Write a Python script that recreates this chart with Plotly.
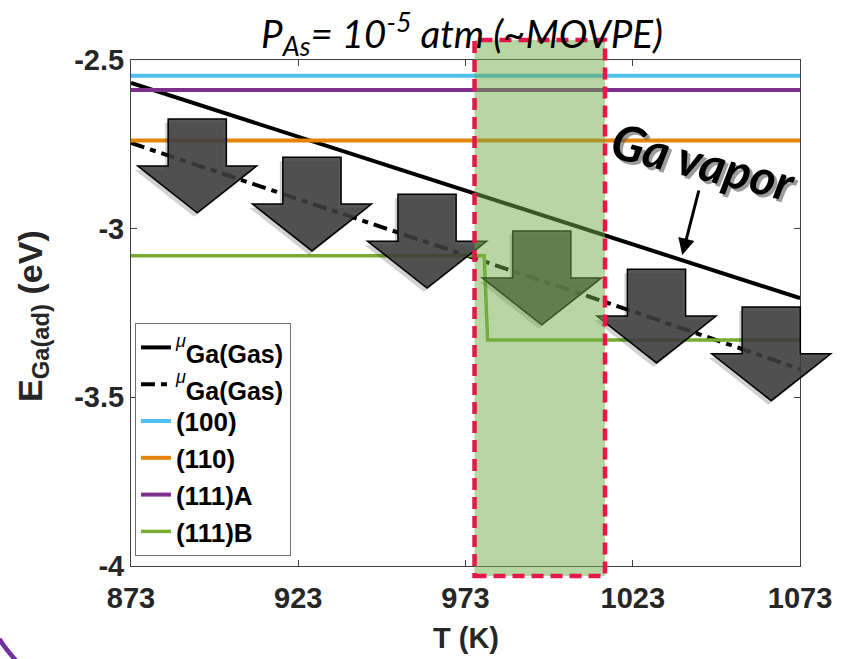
import plotly.graph_objects as go

# ---- data -------------------------------------------------------------
T_grid = [873, 923, 973, 1023, 1073]
mu_gas_solid = [-2.568, -2.727, -2.887, -3.046, -3.206]
mu_gas_dashdot = [-2.746, -2.912, -3.078, -3.245, -3.416]

E_100 = -2.547
E_110 = -2.739
E_111A = -2.589
T_111B = [873, 978.6, 979.6, 1073]
E_111B = [-3.08, -3.08, -3.33, -3.33]

x_ticks = [873, 923, 973, 1023, 1073]
x_tick_text = ["873", "923", "973", "1023", "1073"]
y_ticks = [-4, -3.5, -3, -2.5]
y_tick_text = ["-4", "-3.5", "-3", "-2.5"]

# block arrows: centre temperature and top-of-shaft energy
arrow_T = [892.8, 927.1, 961.5, 995.8, 1030.1, 1064.4]
arrow_E_top = [-2.675, -2.788, -2.898, -3.007, -3.120, -3.232]

# highlighted growth window
window_T = [975.7, 1014.7]

T_MIN, T_MAX = 873, 1073
E_MIN, E_MAX = -4.0, -2.5

# ---- layout geometry (pixels) -----------------------------------------
W, H = 844, 659
ML, MR, MT, MB = 131, 37, 60, 93
PW, PH = W - ML - MR, H - MT - MB

BLUE = "#4DBEEE"
ORANGE = "#E3830A"
PURPLE = "#7E2F8E"
GREEN = "#77AC30"

MU_LABEL = ("<sup><i><span style='font-size:18px;font-weight:normal'>μ</span></i></sup>"
            "<sub><span style='font-size:25px'>Ga(Gas)</span></sub>")


def fx(T):
    return (T - T_MIN) / (T_MAX - T_MIN)


def fy(E):
    return (E - E_MIN) / (E_MAX - E_MIN)


def px_to_fx(p):
    return (p - ML) / PW


def px_to_fy(p):
    return (H - MB - p) / PH


fig = go.Figure()

fig.add_trace(go.Scatter(x=T_grid, y=mu_gas_solid, mode="lines",
                         line=dict(color="black", width=4), name=MU_LABEL))
fig.add_trace(go.Scatter(x=T_grid, y=mu_gas_dashdot, mode="lines",
                         line=dict(color="black", width=4, dash="14px,6px,6px,6px"),
                         name=MU_LABEL))
fig.add_trace(go.Scatter(x=[T_MIN, T_MAX], y=[E_100, E_100], mode="lines",
                         line=dict(color=BLUE, width=4), name="(100)"))
fig.add_trace(go.Scatter(x=[T_MIN, T_MAX], y=[E_110, E_110], mode="lines",
                         line=dict(color=ORANGE, width=4), name="(110)"))
fig.add_trace(go.Scatter(x=[T_MIN, T_MAX], y=[E_111A, E_111A], mode="lines",
                         line=dict(color=PURPLE, width=4), name="(111)A"))
fig.add_trace(go.Scatter(x=T_111B, y=E_111B, mode="lines",
                         line=dict(color=GREEN, width=3.5), name="(111)B"))

# ---- block arrows -----------------------------------------------------
SHAFT_HALF_K = 8.7
WING_HALF_K = 17.8
SHAFT_EV = 0.139
HEAD_EV = 0.139


def arrow_path(tc, etop, dx=0.0, dy=0.0):
    pts = [
        (tc - SHAFT_HALF_K, etop),
        (tc + SHAFT_HALF_K, etop),
        (tc + SHAFT_HALF_K, etop - SHAFT_EV),
        (tc + WING_HALF_K, etop - SHAFT_EV),
        (tc, etop - SHAFT_EV - HEAD_EV),
        (tc - WING_HALF_K, etop - SHAFT_EV),
        (tc - SHAFT_HALF_K, etop - SHAFT_EV),
    ]
    s = ""
    for i, (t, e) in enumerate(pts):
        s += ("M" if i == 0 else "L") + f"{fx(t) + dx:.5f},{fy(e) + dy:.5f} "
    return s + "Z"


shapes = []
for tc, et in zip(arrow_T, arrow_E_top):
    shapes.append(dict(type="path", xref="paper", yref="paper",
                       path=arrow_path(tc, et, -3 / PW, -4 / PH),
                       fillcolor="rgba(0,0,0,0.18)", line=dict(width=0),
                       layer="above"))
    shapes.append(dict(type="path", xref="paper", yref="paper",
                       path=arrow_path(tc, et),
                       fillcolor="rgba(62,62,62,0.88)",
                       line=dict(color="black", width=1.5),
                       layer="above"))

# growth window: translucent green band with dashed crimson border
shapes.append(dict(type="rect", xref="paper", yref="paper",
                   x0=fx(window_T[0]), x1=fx(window_T[1]),
                   y0=px_to_fy(576), y1=px_to_fy(40),
                   fillcolor="rgba(112,173,71,0.5)",
                   line=dict(color="#E5174B", width=4.5, dash="12px,7px"),
                   layer="above"))

# decorative purple arc in the lower-left corner
shapes.append(dict(type="path", xref="paper", yref="paper",
                   path=(f"M{px_to_fx(-2):.5f},{px_to_fy(639):.5f} "
                         f"Q{px_to_fx(6):.5f},{px_to_fy(652):.5f} "
                         f"{px_to_fx(22):.5f},{px_to_fy(668):.5f}"),
                   line=dict(color="#7030A0", width=4.5), layer="above"))

annotations = [
    # title
    dict(xref="paper", yref="paper", x=px_to_fx(465), y=px_to_fy(33),
         xanchor="center", yanchor="middle", showarrow=False,
         text="P<sub>As</sub>= 10<sup>-5</sup> atm (~MOVPE)",
         font=dict(family="Lato", size=38.5, color="black", style="italic")),
    # axis titles
    dict(xref="paper", yref="paper", x=px_to_fx(469), y=px_to_fy(638),
         xanchor="center", yanchor="middle", showarrow=False,
         text="T (K)",
         font=dict(family="Liberation Sans", size=29, color="#262626", weight="bold")),
    dict(xref="paper", yref="paper", x=px_to_fx(31), y=px_to_fy(316),
         xanchor="center", yanchor="middle", showarrow=False, textangle=-90,
         text="E<sub>Ga(ad)</sub> (eV)",
         font=dict(family="Liberation Sans", size=34, color="#262626", weight="bold")),
    # "Ga vapor" label with drop shadow and pointer
    dict(xref="paper", yref="paper", x=px_to_fx(710), y=px_to_fy(161),
         xanchor="center", yanchor="middle", showarrow=False, textangle=14,
         xshift=3, yshift=-3, text="Ga vapor",
         font=dict(family="Lato", size=49, color="rgba(90,90,90,0.6)",
                   weight="bold", style="italic")),
    dict(xref="paper", yref="paper", x=px_to_fx(710), y=px_to_fy(161),
         xanchor="center", yanchor="middle", showarrow=False, textangle=14,
         text="Ga vapor",
         font=dict(family="Lato", size=49, color="black",
                   weight="bold", style="italic")),
    dict(xref="paper", yref="paper", x=px_to_fx(688), y=px_to_fy(255),
         ax=17, ay=-66, showarrow=True, text="",
         arrowhead=2, arrowsize=1.1, arrowwidth=3, arrowcolor="black"),
]

fig.update_layout(
    width=W, height=H,
    margin=dict(l=ML, r=MR, t=MT, b=MB),
    paper_bgcolor="white", plot_bgcolor="white",
    font=dict(family="Liberation Sans", color="#262626"),
    showlegend=True,
    legend=dict(x=px_to_fx(135), y=px_to_fy(556), xanchor="left", yanchor="bottom",
                bgcolor="white", bordercolor="#707070", borderwidth=1,
                font=dict(family="Liberation Sans", size=26, color="black",
                          weight="bold"),
                tracegroupgap=0),
    shapes=shapes,
    annotations=annotations,
)

fig.update_xaxes(range=[T_MIN, T_MAX], tickvals=x_ticks, ticktext=x_tick_text,
                 showline=True, linecolor="#404040", linewidth=1, mirror="ticks",
                 ticks="inside", ticklen=6, tickcolor="#404040",
                 showgrid=False, zeroline=False, ticklabelstandoff=6,
                 tickfont=dict(family="Liberation Sans", size=29,
                               color="#262626", weight="bold"))
fig.update_yaxes(range=[E_MIN, E_MAX], tickvals=y_ticks, ticktext=y_tick_text,
                 showline=True, linecolor="#404040", linewidth=1, mirror="ticks",
                 ticks="inside", ticklen=6, tickcolor="#404040",
                 showgrid=False, zeroline=False,
                 tickfont=dict(family="Liberation Sans", size=29,
                               color="#262626", weight="bold"))

fig.write_html("out.html")
